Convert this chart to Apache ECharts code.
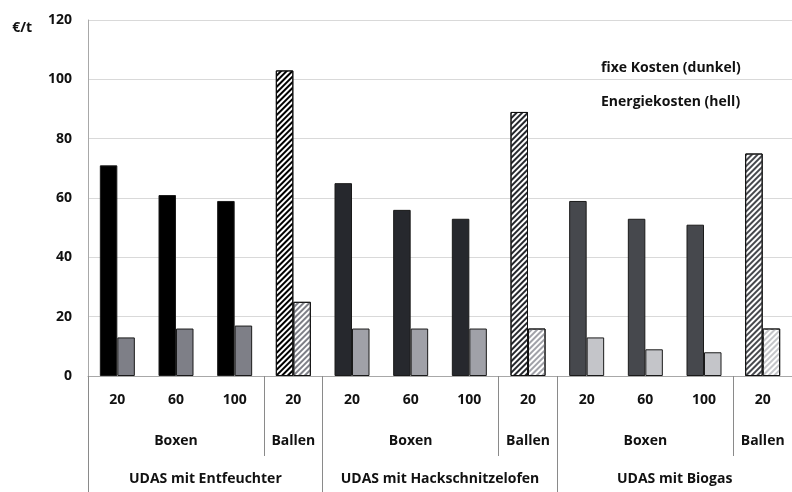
<!DOCTYPE html>
<html>
<head>
<meta charset="utf-8">
<script src="https://cdn.jsdelivr.net/npm/echarts@6/dist/echarts.min.js"></script>
<style>
html,body{margin:0;padding:0;background:#fff;}
#chart{width:792px;height:492px;}
</style>
</head>
<body>
<div id="chart"></div>
<script>
// ---- data ----
const categories = ['20','60','100','20','20','60','100','20','20','60','100','20'];
const storageLabels = ['', 'Boxen', '', 'Ballen', '', 'Boxen', '', 'Ballen', '', 'Boxen', '', 'Ballen'];
const groups = ['UDAS mit Entfeuchter', 'UDAS mit Hackschnitzelofen', 'UDAS mit Biogas'];
const fixedCosts = [71, 61, 59, 103, 65, 56, 53, 89, 59, 53, 51, 75];
const energyCosts = [13, 16, 17, 25, 16, 16, 16, 16, 13, 9, 8, 16];
const hatched = [false, false, false, true, false, false, false, true, false, false, false, true];
const seriesNames = ['fixe Kosten (dunkel)', 'Energiekosten (hell)'];
const yUnit = '€/t';

// ---- styles ----
const darkColors = ['#000000', '#26282d', '#46484d'];
const lightColors = ['#7e7f87', '#a0a1a8', '#c4c5c9'];
const FONT = '"Open Sans", sans-serif';

function buildData(values, palette) {
  return values.map(function (v, i) {
    const g = Math.floor(i / 4);
    const c = palette[g];
    if (hatched[i]) {
      return {
        value: v,
        itemStyle: {
          color: '#ffffff',
          borderColor: '#111',
          borderWidth: 1,
          decal: {
            symbol: 'rect',
            symbolSize: 1,
            rotation: -Math.PI / 4,
            dashArrayX: [1, 0],
            dashArrayY: [2, 2],
            color: c
          }
        }
      };
    }
    return { value: v, itemStyle: { color: c, borderColor: '#1a1a1a', borderWidth: 1 } };
  });
}

const chart = echarts.init(document.getElementById('chart'));
const labelStyle = { fontFamily: FONT, fontWeight: 'bold', fontSize: 14, color: '#111' };

chart.setOption({
  animation: false,
  backgroundColor: '#fff',
  legend: {
    orient: 'vertical',
    left: 591,
    top: 56,
    icon: 'none',
    itemWidth: 0,
    itemHeight: 10,
    itemGap: 20,
    selectedMode: false,
    data: seriesNames,
    textStyle: { fontFamily: FONT, fontWeight: 'bold', fontSize: 14, color: '#111' }
  },
  grid: { left: 88, top: 20, width: 718, height: 356, containLabel: false },
  yAxis: {
    type: 'value',
    min: 0,
    max: 120,
    interval: 20,
    name: yUnit,
    nameLocation: 'end',
    nameGap: -8,
    nameTextStyle: Object.assign({}, labelStyle, { align: 'right', verticalAlign: 'middle', padding: [0, 56, 0, 0] }),
    axisLine: { show: true, lineStyle: { color: '#a8a8a8', width: 1 } },
    axisTick: { show: false },
    axisLabel: Object.assign({}, labelStyle, { margin: 16 }),
    splitLine: { lineStyle: { color: '#d9d9d9', width: 1 } }
  },
  xAxis: [
    {
      type: 'category',
      data: categories,
      position: 'bottom',
      axisLine: { show: true, lineStyle: { color: '#a8a8a8', width: 1 } },
      axisTick: {
        show: true,
        length: 80,
        interval: function (index) { return index % 4 === 3; },
        lineStyle: { color: '#8a8a8a', width: 1 }
      },
      axisLabel: Object.assign({}, labelStyle, { margin: 17, interval: 0 })
    },
    {
      type: 'category',
      data: storageLabels,
      position: 'bottom',
      axisLine: { show: false },
      axisTick: { show: false },
      axisLabel: Object.assign({}, labelStyle, { margin: 58, interval: 0 })
    },
    {
      type: 'category',
      data: groups,
      position: 'bottom',
      axisLine: { show: false },
      axisTick: { show: true, length: 120, interval: 0, lineStyle: { color: '#8a8a8a', width: 1 } },
      axisLabel: Object.assign({}, labelStyle, { margin: 96, interval: 0 })
    }
  ],
  series: [
    {
      name: seriesNames[0],
      type: 'bar',
      xAxisIndex: 0,
      barWidth: 17.5,
      barGap: '0%',
      data: buildData(fixedCosts, darkColors)
    },
    {
      name: seriesNames[1],
      type: 'bar',
      xAxisIndex: 0,
      barWidth: 17.5,
      barGap: '0%',
      data: buildData(energyCosts, lightColors)
    }
  ]
});
</script>
</body>
</html>
